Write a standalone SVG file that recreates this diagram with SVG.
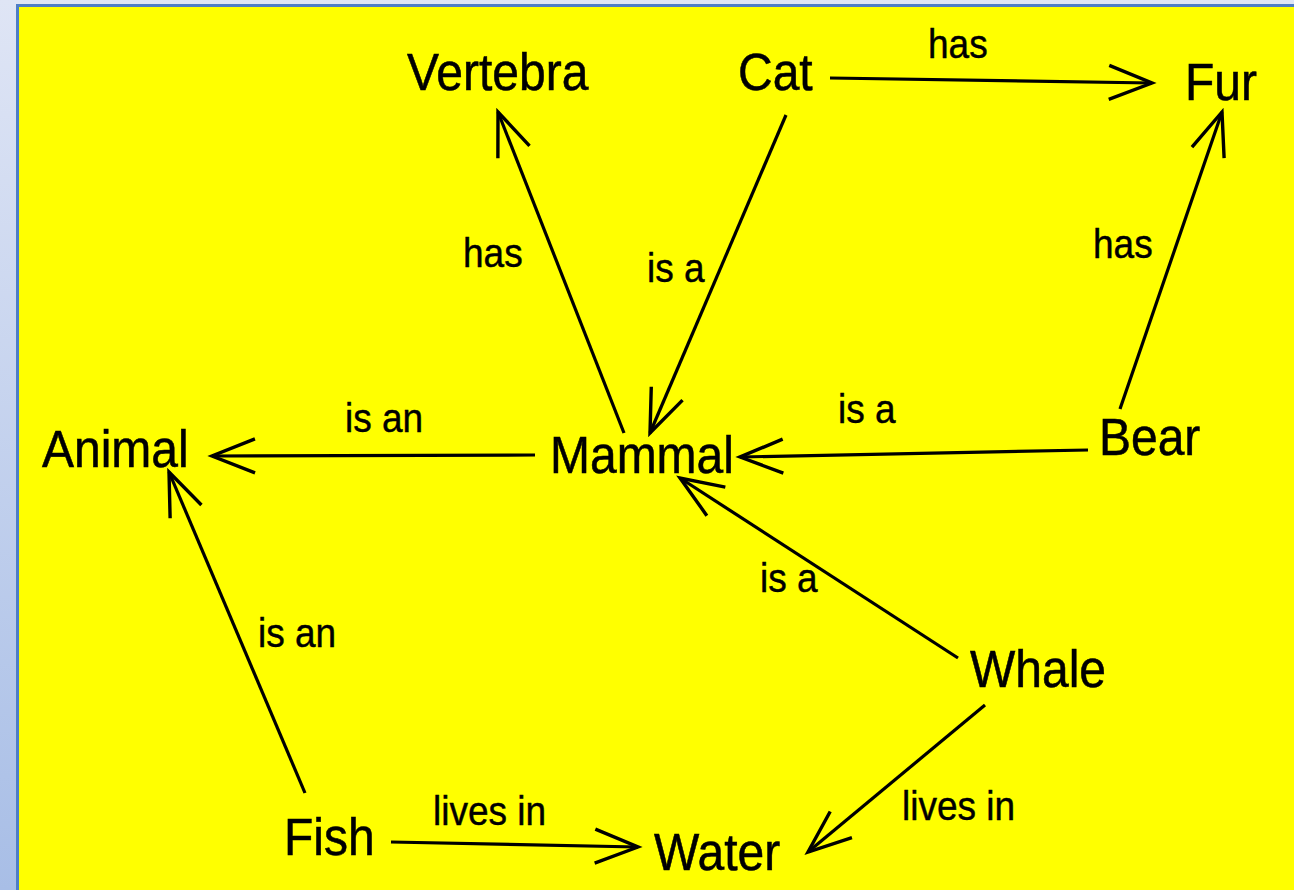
<svg xmlns="http://www.w3.org/2000/svg" width="1294" height="890" viewBox="0 0 1294 890">
  <defs>
    <linearGradient id="frameGrad" x1="0" y1="0" x2="0" y2="1">
      <stop offset="0" stop-color="#dfe5f5"/>
      <stop offset="1" stop-color="#a8bee6"/>
    </linearGradient>
    <marker id="open-arrow" markerUnits="userSpaceOnUse" viewBox="-52 -26 56 52" markerWidth="56" markerHeight="52" refX="0" refY="0" orient="auto" overflow="visible">
      <path d="M -43 -17 L 0 0 L -43 17" fill="none" stroke="#000" stroke-width="3.4" stroke-linejoin="miter"/>
    </marker>
    <style>
      .node { font-family: "Liberation Sans", Arial, sans-serif; font-size: 48px; fill: #000; stroke: #000; stroke-width: 0.5; }
      .lbl { font-family: "Liberation Sans", Arial, sans-serif; font-size: 37px; fill: #000; stroke: #000; stroke-width: 0.4; }
      .edge { fill: none; stroke: #000; stroke-width: 3.2; marker-end: url(#open-arrow); }
    </style>
  </defs>

  <!-- window frame and canvas -->
  <rect x="0" y="0" width="1294" height="890" fill="url(#frameGrad)"/>
  <rect x="16" y="4" width="1280" height="890" fill="#4f7ec6"/>
  <rect x="19" y="7" width="1276" height="885" fill="#ffff00"/>

  <!-- connectors -->
  <g id="connectors">
    <path class="edge" d="M 830 78 L 1152 83"/>
    <path class="edge" d="M 624 433 L 498 112"/>
    <path class="edge" d="M 786 115 L 650 433"/>
    <path class="edge" d="M 535 455 L 212 456"/>
    <path class="edge" d="M 1088 450 L 740 457"/>
    <path class="edge" d="M 1120 409 L 1222 112"/>
    <path class="edge" d="M 958 658 L 680 478"/>
    <path class="edge" d="M 985 705 L 808 852"/>
    <path class="edge" d="M 305 793 L 169 472"/>
    <path class="edge" d="M 391 842 L 638 847"/>

    <!-- edge labels, slightly tall type -->
    <text class="lbl" transform="translate(928 58) scale(1 1.08)">has</text>
    <text class="lbl" transform="translate(463 267) scale(1 1.08)">has</text>
    <text class="lbl" transform="translate(647 282) scale(1 1.08)">is a</text>
    <text class="lbl" transform="translate(1093 258) scale(1 1.08)">has</text>
    <text class="lbl" transform="translate(345 432) scale(1 1.08)">is an</text>
    <text class="lbl" transform="translate(838 423) scale(1 1.08)">is a</text>
    <text class="lbl" transform="translate(760 592) scale(1 1.08)">is a</text>
    <text class="lbl" transform="translate(258 647) scale(1 1.08)">is an</text>
    <text class="lbl" transform="translate(433 825) scale(1 1.08)">lives in</text>
    <text class="lbl" transform="translate(902 820) scale(1 1.08)">lives in</text>
  </g>

  <!-- concepts -->
  <g id="node-vertebra"><text class="node" transform="translate(407 90) scale(1 1.08)">Vertebra</text></g>
  <g id="node-cat"><text class="node" transform="translate(738 90) scale(1 1.08)">Cat</text></g>
  <g id="node-fur"><text class="node" transform="translate(1185 100) scale(1 1.08)">Fur</text></g>
  <g id="node-animal"><text class="node" transform="translate(42 467) scale(1 1.08)">Animal</text></g>
  <g id="node-mammal"><text class="node" transform="translate(550 473) scale(1 1.08)">Mammal</text></g>
  <g id="node-bear"><text class="node" transform="translate(1099 455) scale(1 1.08)">Bear</text></g>
  <g id="node-whale"><text class="node" transform="translate(970 687) scale(1 1.08)">Whale</text></g>
  <g id="node-fish"><text class="node" transform="translate(284 855) scale(1 1.08)">Fish</text></g>
  <g id="node-water"><text class="node" transform="translate(654 870) scale(1 1.08)">Water</text></g>
</svg>
